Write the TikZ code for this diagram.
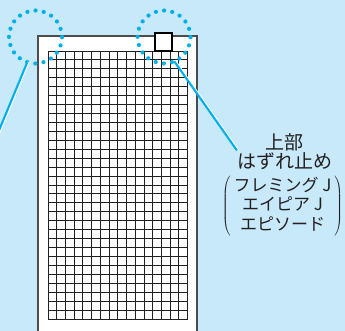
\documentclass[tikz,border=0pt]{standalone}
\usepackage{fontspec}
\newfontfamily\jpfont{Noto Sans CJK JP}
\usepackage{xcolor}
\begin{document}
\begin{tikzpicture}[x=1pt,y=1pt]
\definecolor{fillColor}{RGB}{199,233,250}
\definecolor{drawColor}{RGB}{35,31,32}
\definecolor{dotColor}{RGB}{0,176,236}
\tikzset{
  ring/.style={circle,inner sep=0pt,outer sep=0pt,minimum size=53,draw=dotColor,line width=4.2pt,dash pattern=on 0pt off 8.3pt,line cap=round},
  leader/.style={draw=dotColor,line width=2.1pt},
  halo/.style={draw=white,line width=2.1pt},
  caption/.style={text=drawColor,font=\jpfont\fontsize{17}{19.6}\selectfont,align=center,inner sep=0pt}
}
\path[use as bounding box,fill=fillColor] (0,0) rectangle (345,331);
\begin{scope}
\path[clip] (0,0) rectangle (345,331);

% panel and grid
\path[draw=drawColor!80,fill=white,line width=1.2pt] (38,-5) rectangle (197,295);

\foreach \i in {0,...,16}
  \path[draw=drawColor,line width=0.95pt] (48+\i*8.73,12) -- (48+\i*8.73,280);

\foreach \j in {0,...,30}
  \path[draw=drawColor,line width=0.95pt] (48,12+\j*8.933) -- (187.7,12+\j*8.933);

\path[draw=black,fill=white,line width=2.2pt] (155,280) rectangle (172,298);

% marked corners
\node[ring] (lring) at (35.5,294) {};

\node[ring] (rring) at (164,294) {};

\coordinate (lfoot) at (-6,188.5);

\coordinate (rfoot) at (237,180.5);

\path[halo] ([xshift=1.2pt]lring.252) -- ([xshift=1.2pt]lfoot);

\path[leader] (lring.252) -- (lfoot);

\path[halo] ([xshift=1.2pt]rring.293) -- ([xshift=1.2pt]rfoot);

\path[leader] (rring.293) -- (rfoot);

% labels
\node[caption,font=\jpfont\fontsize{19}{18.8}\selectfont] (label) at (284.5,179) {上部\\はずれ止め};

\node[caption] (models) at (282.5,124.5) {$\left(\,\begin{tabular}{@{}c@{}}フレミング J\\エイピア J\\エピソード\end{tabular}\,\right)$};
\end{scope}
\end{tikzpicture}
\end{document}
